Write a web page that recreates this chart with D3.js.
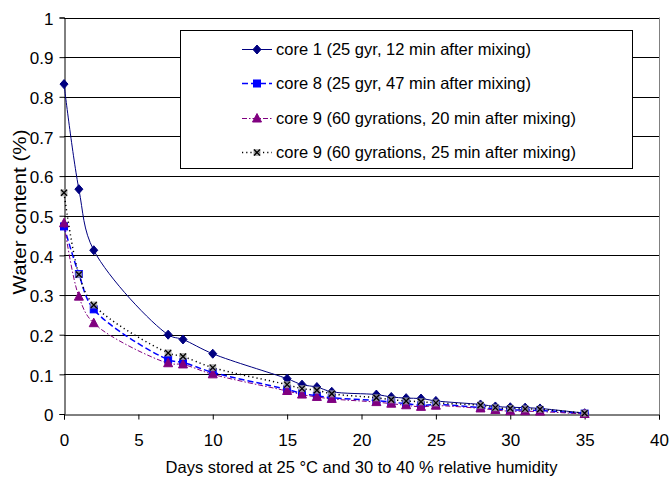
<!DOCTYPE html>
<meta charset="utf-8">
<style>
  body { margin: 0; background: #fff; }
  text { font-family: Arial, "Liberation Sans", sans-serif; fill: #000; }
  .grid { stroke: #000; stroke-width: 1; shape-rendering: crispEdges; }
  .tick-label { font-size: 17px; }
  .legend-text { font-size: 16.5px; }
</style>
<script src="https://d3js.org/d3.v7.min.js"></script>
<svg width="669" height="477"></svg>
<script>
  // days stored
  var days = [0, 1, 2, 7, 8, 10, 15, 16, 17, 18, 21, 22, 23, 24, 25, 28, 29, 30, 31, 32, 35];

  // water content (%) per core
  var core1 = [0.832, 0.567, 0.413, 0.200, 0.188, 0.152, 0.089, 0.074, 0.068, 0.056, 0.049, 0.043, 0.040, 0.039, 0.033, 0.024, 0.019, 0.017, 0.016, 0.014, 0.002];
  var core8 = [0.473, 0.353, 0.264, 0.137, 0.130, 0.105, 0.062, 0.052, 0.046, 0.041, 0.034, 0.030, 0.026, 0.022, 0.024, 0.016, 0.013, 0.010, 0.010, 0.009, 0.001];
  var core9a = [0.481, 0.296, 0.229, 0.128, 0.125, 0.100, 0.058, 0.049, 0.043, 0.038, 0.030, 0.026, 0.022, 0.018, 0.021, 0.014, 0.010, 0.007, 0.007, 0.006, 0.000];
  var core9b = [0.558, 0.352, 0.275, 0.154, 0.145, 0.117, 0.074, 0.064, 0.060, 0.051, 0.041, 0.036, 0.033, 0.031, 0.028, 0.022, 0.016, 0.014, 0.013, 0.012, 0.002];

  var seriesNames = [
    "core 1 (25 gyr, 12 min after mixing)",
    "core 8 (25 gyr, 47 min after mixing)",
    "core 9 (60 gyrations, 20 min after mixing)",
    "core 9 (60 gyrations, 25 min after mixing)"
  ];

  var xTicks = [0, 5, 10, 15, 20, 25, 30, 35, 40];
  var yTicks = [0, 0.1, 0.2, 0.3, 0.4, 0.5, 0.6, 0.7, 0.8, 0.9, 1];

  var svg = d3.select("svg");
  var plotLeft = 64, plotRight = 659, plotTop = 17.5, plotBottom = 414;

  var x = d3.scaleLinear().domain([0, 40]).range([plotLeft, plotRight]);
  var y = d3.scaleLinear().domain([0, 1]).range([plotBottom, plotTop]);

  // gridlines
  svg.append("g").selectAll("line")
    .data(yTicks.slice(1))
    .enter().append("line")
    .attr("class", "grid")
    .attr("x1", plotLeft).attr("x2", plotRight)
    .attr("y1", function(d) { return Math.round(y(d)) + 0.5; })
    .attr("y2", function(d) { return Math.round(y(d)) + 0.5; });

  // right border of plot area
  svg.append("line")
    .attr("x1", plotRight + 0.5).attr("x2", plotRight + 0.5)
    .attr("y1", y(1)).attr("y2", y(0))
    .attr("stroke", "#808080");

  var yAxis = svg.append("g")
    .attr("transform", "translate(" + (plotLeft + 0.5) + ",0)")
    .call(d3.axisLeft(y).tickValues(yTicks).tickSize(5).tickPadding(6)
      .tickFormat(function(d) { return d === 0 ? "0" : d === 1 ? "1" : d3.format(".1f")(d); }));
  var xAxis = svg.append("g")
    .attr("transform", "translate(0," + (plotBottom + 0.5) + ")")
    .call(d3.axisBottom(x).tickValues(xTicks).tickSize(5).tickPadding(14));

  [yAxis, xAxis].forEach(function(a) {
    a.attr("font-size", null).attr("font-family", null);
    a.select(".domain").attr("stroke", "#000");
    a.selectAll(".tick line").attr("stroke", "#000");
    a.selectAll("text").attr("class", "tick-label").attr("fill", "#000");
  });
  yAxis.selectAll("text").attr("dy", "0.4em");

  // axis titles
  svg.append("text")
    .attr("x", (plotLeft + plotRight) / 2).attr("y", 473)
    .attr("text-anchor", "middle")
    .style("font-size", "16.5px")
    .text("Days stored at 25 \u00b0C and 30 to 40 % relative humidity");

  svg.append("text")
    .attr("transform", "translate(26,212) rotate(-90)")
    .attr("text-anchor", "middle")
    .style("font-size", "17.5px")
    .attr("textLength", 165)
    .attr("lengthAdjust", "spacingAndGlyphs")
    .text("Water content (%)");

  var styles = [
    { color: "#000080", width: 1, dash: null, marker: "diamond" },
    { color: "#0000ff", width: 1.5, dash: "6,3", marker: "square" },
    { color: "#800080", width: 1, dash: "5,2,1.5,2", marker: "triangle" },
    { color: "#000000", width: 1.5, dash: "1.2,3", marker: "star" }
  ];
  var allSeries = [core1, core8, core9a, core9b];

  var line = d3.line()
    .x(function(d) { return x(d[0]); })
    .y(function(d) { return y(d[1]); })
    .curve(d3.curveCatmullRom.alpha(0.5));

  function drawMarker(g, type, color) {
    if (type === "diamond") {
      g.append("path").attr("d", "M0,-4.5L4,0L0,4.5L-4,0Z").attr("fill", color).attr("stroke", color);
    } else if (type === "square") {
      g.append("rect").attr("x", -3.5).attr("y", -3.5).attr("width", 7).attr("height", 7)
        .attr("fill", color).attr("stroke", color);
    } else if (type === "triangle") {
      g.append("path").attr("d", "M0,-5L4.5,3.5L-4.5,3.5Z").attr("fill", color).attr("stroke", color);
    } else {
      g.append("rect").attr("x", -3.5).attr("y", -3.5).attr("width", 7).attr("height", 7)
        .attr("fill", "#a0a0a0").attr("fill-opacity", 0.8);
      g.append("path").attr("d", "M-3,-3L3,3M3,-3L-3,3").attr("stroke", "#000").attr("stroke-width", 1.3);
    }
  }

  allSeries.forEach(function(vals, i) {
    var st = styles[i];
    var pts = days.map(function(d, j) { return [d, vals[j]]; });
    svg.append("path")
      .datum(pts)
      .attr("d", line)
      .attr("fill", "none")
      .attr("stroke", st.color)
      .attr("stroke-width", st.width)
      .attr("stroke-dasharray", st.dash);
    pts.forEach(function(p) {
      var m = svg.append("g").attr("transform", "translate(" + x(p[0]) + "," + y(p[1]) + ")");
      drawMarker(m, st.marker, st.color);
    });
  });

  // legend
  var legend = svg.append("g");
  legend.append("rect")
    .attr("x", 180.5).attr("y", 30.5).attr("width", 452).attr("height", 138)
    .attr("fill", "#fff").attr("stroke", "#000");
  var rowY = [49.5, 83.5, 118.5, 152.5];
  seriesNames.forEach(function(name, i) {
    var st = styles[i];
    var row = legend.append("g").attr("transform", "translate(0," + rowY[i] + ")");
    row.append("line")
      .attr("x1", 242).attr("x2", 272).attr("y1", 0).attr("y2", 0)
      .attr("stroke", st.color).attr("stroke-width", st.width)
      .attr("stroke-dasharray", st.dash);
    drawMarker(row.append("g").attr("transform", "translate(257,0)"), st.marker, st.color);
    row.append("text")
      .attr("class", "legend-text")
      .attr("x", 276).attr("dy", "0.36em")
      .text(name);
  });
</script>
